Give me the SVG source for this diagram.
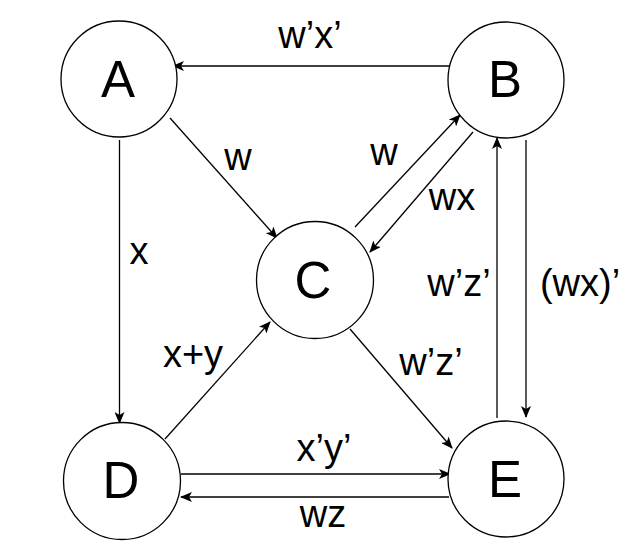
<svg xmlns="http://www.w3.org/2000/svg" width="638" height="560" viewBox="0 0 638 560">
<defs>
<style>
.node circle{fill:#fff;stroke:#000;stroke-width:1.3}
.node text{font-family:"Liberation Sans",Arial,sans-serif;font-size:51px;text-anchor:middle;fill:#000}
.edges line{stroke:#000;stroke-width:1.3;marker-end:url(#arr)}
.lbl{font-family:"Liberation Sans",Arial,sans-serif;font-size:38px;text-anchor:middle;fill:#000}
</style>
<marker id="arr" viewBox="0 0 12 10" refX="11" refY="5" markerWidth="12" markerHeight="10" markerUnits="userSpaceOnUse" orient="auto">
<path d="M0,0 L12,5 L0,10 L3,5 Z" fill="#000"/>
</marker>
</defs>
<rect width="638" height="560" fill="#fff"/>
<g class="edges">
<line x1="452" y1="66" x2="173" y2="66"/>
<line x1="170" y1="118" x2="277" y2="238"/>
<line x1="119.5" y1="140" x2="119.5" y2="423"/>
<line x1="355" y1="227" x2="460" y2="115"/>
<line x1="473" y1="132" x2="370" y2="252"/>
<line x1="165" y1="439" x2="270" y2="322"/>
<line x1="350" y1="329" x2="452" y2="448"/>
<line x1="497" y1="418" x2="497" y2="138"/>
<line x1="526" y1="140" x2="526" y2="417"/>
<line x1="181" y1="474" x2="450" y2="474"/>
<line x1="449" y1="497" x2="181" y2="497"/>
</g>
<g class="labels">
<text class="lbl" x="310" y="48">w’x’</text>
<text class="lbl" x="238" y="170">w</text>
<text class="lbl" x="139" y="264">x</text>
<text class="lbl" x="384" y="165">w</text>
<text class="lbl" x="452" y="210">wx</text>
<text class="lbl" x="193" y="367">x+y</text>
<text class="lbl" x="431" y="375">w’z’</text>
<text class="lbl" x="459" y="296">w’z’</text>
<text class="lbl" x="580" y="296">(wx)’</text>
<text class="lbl" x="324" y="461">x’y’</text>
<text class="lbl" x="323" y="527">wz</text>
</g>
<g id="A" class="node"><circle cx="119" cy="79" r="58"/><text x="118" y="97">A</text></g>
<g id="B" class="node"><circle cx="506" cy="80" r="58"/><text x="505" y="97">B</text></g>
<g id="C" class="node"><circle cx="315" cy="280" r="58.5"/><text x="313" y="298">C</text></g>
<g id="D" class="node"><circle cx="122" cy="481" r="58.5"/><text x="121" y="498">D</text></g>
<g id="E" class="node"><circle cx="506" cy="479" r="58"/><text x="505" y="497">E</text></g>
</svg>
